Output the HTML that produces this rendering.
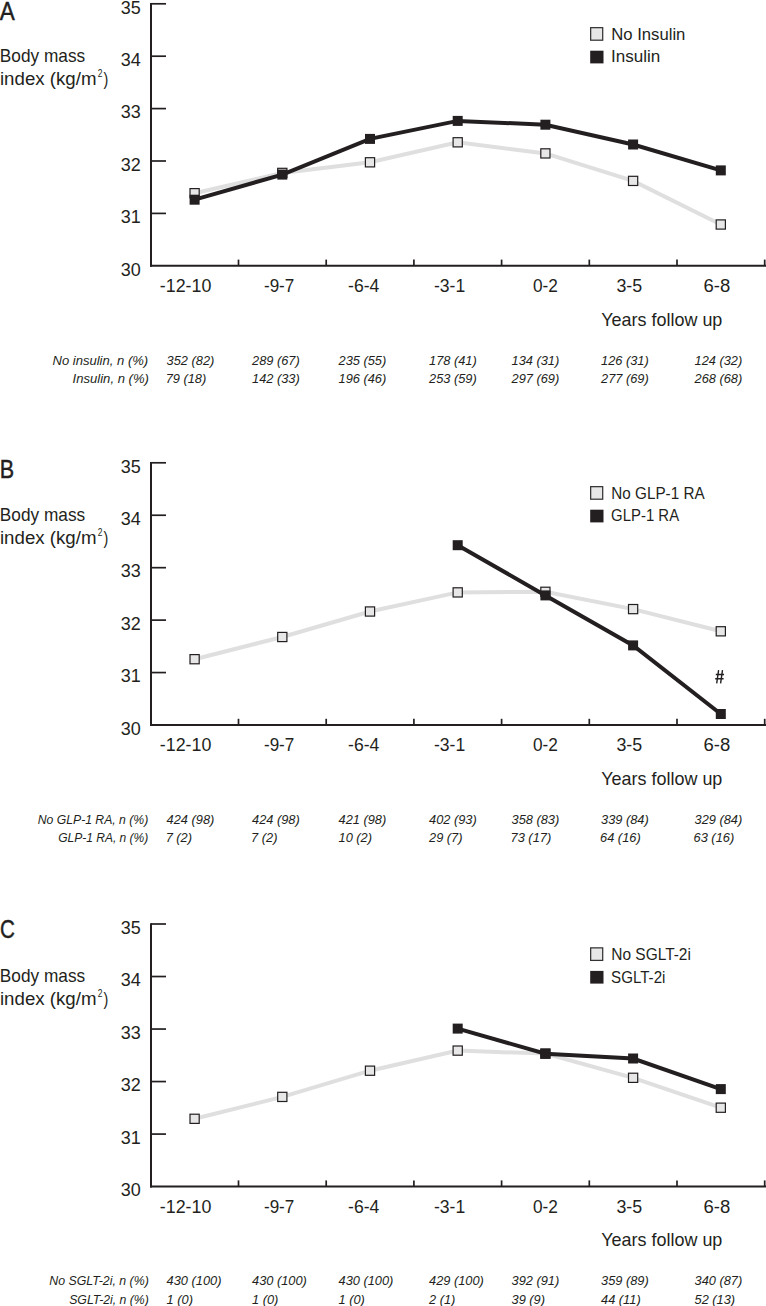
<!DOCTYPE html>
<html><head><meta charset="utf-8"><style>
html,body{margin:0;padding:0;background:#fff;overflow:hidden;}
svg{display:block;}
svg text{font-family:"Liberation Sans",sans-serif;fill:#231f20;}
</style></head><body>
<svg width="766" height="1306" viewBox="0 0 766 1306">
<line x1="151.0" y1="3.80" x2="166" y2="3.80" stroke="#231f20" stroke-width="1.7"/>
<line x1="151.0" y1="56.20" x2="166" y2="56.20" stroke="#231f20" stroke-width="1.7"/>
<line x1="151.0" y1="108.60" x2="166" y2="108.60" stroke="#231f20" stroke-width="1.7"/>
<line x1="151.0" y1="161.00" x2="166" y2="161.00" stroke="#231f20" stroke-width="1.7"/>
<line x1="151.0" y1="213.40" x2="166" y2="213.40" stroke="#231f20" stroke-width="1.7"/>
<line x1="151.0" y1="2.95" x2="151.0" y2="266.80" stroke="#231f20" stroke-width="2"/>
<line x1="150" y1="265.80" x2="767" y2="265.80" stroke="#231f20" stroke-width="2"/>
<line x1="238.50" y1="259.60" x2="238.50" y2="265.80" stroke="#231f20" stroke-width="1.7"/>
<line x1="326.20" y1="259.60" x2="326.20" y2="265.80" stroke="#231f20" stroke-width="1.7"/>
<line x1="413.90" y1="259.60" x2="413.90" y2="265.80" stroke="#231f20" stroke-width="1.7"/>
<line x1="501.60" y1="259.60" x2="501.60" y2="265.80" stroke="#231f20" stroke-width="1.7"/>
<line x1="589.30" y1="259.60" x2="589.30" y2="265.80" stroke="#231f20" stroke-width="1.7"/>
<line x1="677.00" y1="259.60" x2="677.00" y2="265.80" stroke="#231f20" stroke-width="1.7"/>
<line x1="764.70" y1="259.60" x2="764.70" y2="265.80" stroke="#231f20" stroke-width="1.7"/>
<rect x="590.66" y="27.66" width="12.04" height="12.54" fill="#e7e7e7" stroke="#333333" stroke-width="1.25"/>
<rect x="590.2" y="50.70" width="13.3" height="12.7" fill="#231f20"/>
<polyline points="194.60,193.20 282.30,172.90 370.00,162.30 457.70,142.30 545.40,153.40 633.10,180.90 720.80,224.50" fill="none" stroke="#dfdfdf" stroke-width="4" stroke-linejoin="miter"/>
<rect x="190.00" y="188.60" width="9.2" height="9.2" fill="#e7e7e7" stroke="#231f20" stroke-width="1.2"/>
<rect x="277.70" y="168.30" width="9.2" height="9.2" fill="#e7e7e7" stroke="#231f20" stroke-width="1.2"/>
<rect x="365.40" y="157.70" width="9.2" height="9.2" fill="#e7e7e7" stroke="#231f20" stroke-width="1.2"/>
<rect x="453.10" y="137.70" width="9.2" height="9.2" fill="#e7e7e7" stroke="#231f20" stroke-width="1.2"/>
<rect x="540.80" y="148.80" width="9.2" height="9.2" fill="#e7e7e7" stroke="#231f20" stroke-width="1.2"/>
<rect x="628.50" y="176.30" width="9.2" height="9.2" fill="#e7e7e7" stroke="#231f20" stroke-width="1.2"/>
<rect x="716.20" y="219.90" width="9.2" height="9.2" fill="#e7e7e7" stroke="#231f20" stroke-width="1.2"/>
<polyline points="194.60,199.70 282.30,174.60 370.00,138.90 457.70,120.90 545.40,124.70 633.10,144.50 720.80,170.40" fill="none" stroke="#231f20" stroke-width="4.0" stroke-linejoin="miter"/>
<rect x="189.60" y="194.70" width="10" height="10" fill="#231f20"/>
<rect x="277.30" y="169.60" width="10" height="10" fill="#231f20"/>
<rect x="365.00" y="133.90" width="10" height="10" fill="#231f20"/>
<rect x="452.70" y="115.90" width="10" height="10" fill="#231f20"/>
<rect x="540.40" y="119.70" width="10" height="10" fill="#231f20"/>
<rect x="628.10" y="139.50" width="10" height="10" fill="#231f20"/>
<rect x="715.80" y="165.40" width="10" height="10" fill="#231f20"/>
<line x1="151.0" y1="462.80" x2="166" y2="462.80" stroke="#231f20" stroke-width="1.7"/>
<line x1="151.0" y1="515.24" x2="166" y2="515.24" stroke="#231f20" stroke-width="1.7"/>
<line x1="151.0" y1="567.68" x2="166" y2="567.68" stroke="#231f20" stroke-width="1.7"/>
<line x1="151.0" y1="620.12" x2="166" y2="620.12" stroke="#231f20" stroke-width="1.7"/>
<line x1="151.0" y1="672.56" x2="166" y2="672.56" stroke="#231f20" stroke-width="1.7"/>
<line x1="151.0" y1="461.95" x2="151.0" y2="726.00" stroke="#231f20" stroke-width="2"/>
<line x1="150" y1="725.00" x2="767" y2="725.00" stroke="#231f20" stroke-width="2"/>
<line x1="238.50" y1="718.80" x2="238.50" y2="725.00" stroke="#231f20" stroke-width="1.7"/>
<line x1="326.20" y1="718.80" x2="326.20" y2="725.00" stroke="#231f20" stroke-width="1.7"/>
<line x1="413.90" y1="718.80" x2="413.90" y2="725.00" stroke="#231f20" stroke-width="1.7"/>
<line x1="501.60" y1="718.80" x2="501.60" y2="725.00" stroke="#231f20" stroke-width="1.7"/>
<line x1="589.30" y1="718.80" x2="589.30" y2="725.00" stroke="#231f20" stroke-width="1.7"/>
<line x1="677.00" y1="718.80" x2="677.00" y2="725.00" stroke="#231f20" stroke-width="1.7"/>
<line x1="764.70" y1="718.80" x2="764.70" y2="725.00" stroke="#231f20" stroke-width="1.7"/>
<rect x="590.66" y="486.66" width="12.04" height="12.54" fill="#e7e7e7" stroke="#333333" stroke-width="1.25"/>
<rect x="590.2" y="509.70" width="13.3" height="12.7" fill="#231f20"/>
<polyline points="194.60,659.20 282.30,637.00 370.00,611.50 457.70,592.40 545.40,591.80 633.10,609.10 720.80,631.30" fill="none" stroke="#dfdfdf" stroke-width="4" stroke-linejoin="miter"/>
<rect x="190.00" y="654.60" width="9.2" height="9.2" fill="#e7e7e7" stroke="#231f20" stroke-width="1.2"/>
<rect x="277.70" y="632.40" width="9.2" height="9.2" fill="#e7e7e7" stroke="#231f20" stroke-width="1.2"/>
<rect x="365.40" y="606.90" width="9.2" height="9.2" fill="#e7e7e7" stroke="#231f20" stroke-width="1.2"/>
<rect x="453.10" y="587.80" width="9.2" height="9.2" fill="#e7e7e7" stroke="#231f20" stroke-width="1.2"/>
<rect x="540.80" y="587.20" width="9.2" height="9.2" fill="#e7e7e7" stroke="#231f20" stroke-width="1.2"/>
<rect x="628.50" y="604.50" width="9.2" height="9.2" fill="#e7e7e7" stroke="#231f20" stroke-width="1.2"/>
<rect x="716.20" y="626.70" width="9.2" height="9.2" fill="#e7e7e7" stroke="#231f20" stroke-width="1.2"/>
<polyline points="457.70,545.20 545.40,595.40 633.10,645.40 720.80,714.00" fill="none" stroke="#231f20" stroke-width="4.0" stroke-linejoin="miter"/>
<rect x="452.70" y="540.20" width="10" height="10" fill="#231f20"/>
<rect x="540.40" y="590.40" width="10" height="10" fill="#231f20"/>
<rect x="628.10" y="640.40" width="10" height="10" fill="#231f20"/>
<rect x="715.80" y="709.00" width="10" height="10" fill="#231f20"/>
<line x1="151.0" y1="924.00" x2="166" y2="924.00" stroke="#231f20" stroke-width="1.7"/>
<line x1="151.0" y1="976.52" x2="166" y2="976.52" stroke="#231f20" stroke-width="1.7"/>
<line x1="151.0" y1="1029.04" x2="166" y2="1029.04" stroke="#231f20" stroke-width="1.7"/>
<line x1="151.0" y1="1081.56" x2="166" y2="1081.56" stroke="#231f20" stroke-width="1.7"/>
<line x1="151.0" y1="1134.08" x2="166" y2="1134.08" stroke="#231f20" stroke-width="1.7"/>
<line x1="151.0" y1="923.15" x2="151.0" y2="1187.60" stroke="#231f20" stroke-width="2"/>
<line x1="150" y1="1186.60" x2="767" y2="1186.60" stroke="#231f20" stroke-width="2"/>
<line x1="238.50" y1="1180.40" x2="238.50" y2="1186.60" stroke="#231f20" stroke-width="1.7"/>
<line x1="326.20" y1="1180.40" x2="326.20" y2="1186.60" stroke="#231f20" stroke-width="1.7"/>
<line x1="413.90" y1="1180.40" x2="413.90" y2="1186.60" stroke="#231f20" stroke-width="1.7"/>
<line x1="501.60" y1="1180.40" x2="501.60" y2="1186.60" stroke="#231f20" stroke-width="1.7"/>
<line x1="589.30" y1="1180.40" x2="589.30" y2="1186.60" stroke="#231f20" stroke-width="1.7"/>
<line x1="677.00" y1="1180.40" x2="677.00" y2="1186.60" stroke="#231f20" stroke-width="1.7"/>
<line x1="764.70" y1="1180.40" x2="764.70" y2="1186.60" stroke="#231f20" stroke-width="1.7"/>
<rect x="590.66" y="947.86" width="12.04" height="12.54" fill="#e7e7e7" stroke="#333333" stroke-width="1.25"/>
<rect x="590.2" y="970.90" width="13.3" height="12.7" fill="#231f20"/>
<polyline points="194.60,1118.80 282.30,1096.90 370.00,1070.70 457.70,1050.60 545.40,1053.60 633.10,1077.80 720.80,1107.70" fill="none" stroke="#dfdfdf" stroke-width="4" stroke-linejoin="miter"/>
<rect x="190.00" y="1114.20" width="9.2" height="9.2" fill="#e7e7e7" stroke="#231f20" stroke-width="1.2"/>
<rect x="277.70" y="1092.30" width="9.2" height="9.2" fill="#e7e7e7" stroke="#231f20" stroke-width="1.2"/>
<rect x="365.40" y="1066.10" width="9.2" height="9.2" fill="#e7e7e7" stroke="#231f20" stroke-width="1.2"/>
<rect x="453.10" y="1046.00" width="9.2" height="9.2" fill="#e7e7e7" stroke="#231f20" stroke-width="1.2"/>
<rect x="540.80" y="1049.00" width="9.2" height="9.2" fill="#e7e7e7" stroke="#231f20" stroke-width="1.2"/>
<rect x="628.50" y="1073.20" width="9.2" height="9.2" fill="#e7e7e7" stroke="#231f20" stroke-width="1.2"/>
<rect x="716.20" y="1103.10" width="9.2" height="9.2" fill="#e7e7e7" stroke="#231f20" stroke-width="1.2"/>
<polyline points="457.70,1028.60 545.40,1053.70 633.10,1058.50 720.80,1089.10" fill="none" stroke="#231f20" stroke-width="4.0" stroke-linejoin="miter"/>
<rect x="452.70" y="1023.60" width="10" height="10" fill="#231f20"/>
<rect x="540.40" y="1048.70" width="10" height="10" fill="#231f20"/>
<rect x="628.10" y="1053.50" width="10" height="10" fill="#231f20"/>
<rect x="715.80" y="1084.10" width="10" height="10" fill="#231f20"/>
<path d="M718.6,670.2 L716.7,683.4 M722.5,670.2 L720.6,683.4 M715.8,674.5 L724,674.5 M715.2,678.7 L723.6,678.7" stroke="#231f20" stroke-width="1.4" fill="none"/>
<text transform="translate(-0.20,20.00) scale(0.9000,1)" style="font-size:25px;stroke:#231f20;stroke-width:0.45px">A</text>
<text transform="translate(-0.16,61.80) scale(0.9591,1)" style="font-size:18px">Body mass</text>
<text transform="translate(-0.04,85.00) scale(1.0385,1)" style="font-size:18px">index (kg/m</text>
<text transform="translate(97.70,76.90) scale(0.7833,1)" style="font-size:10.8px">2</text>
<text transform="translate(103.40,85.00) scale(0.8000,1)" style="font-size:18px">)</text>
<text transform="translate(120.70,13.50) scale(1.0000,1)" style="font-size:18px">35</text>
<text transform="translate(120.70,65.90) scale(1.0000,1)" style="font-size:18px">34</text>
<text transform="translate(120.70,118.30) scale(1.0000,1)" style="font-size:18px">33</text>
<text transform="translate(120.70,170.70) scale(1.0000,1)" style="font-size:18px">32</text>
<text transform="translate(120.70,223.10) scale(1.0000,1)" style="font-size:18px">31</text>
<text transform="translate(120.70,275.50) scale(1.0000,1)" style="font-size:18px">30</text>
<text transform="translate(159.81,292.00) scale(0.9922,1)" style="font-size:18px">-12-10</text>
<text transform="translate(263.95,292.00) scale(0.9484,1)" style="font-size:18px">-9-7</text>
<text transform="translate(348.12,292.00) scale(0.9774,1)" style="font-size:18px">-6-4</text>
<text transform="translate(433.92,292.00) scale(0.9774,1)" style="font-size:18px">-3-1</text>
<text transform="translate(532.90,292.00) scale(0.9577,1)" style="font-size:18px">0-2</text>
<text transform="translate(616.41,292.00) scale(0.9920,1)" style="font-size:18px">3-5</text>
<text transform="translate(703.57,292.00) scale(1.0280,1)" style="font-size:18px">6-8</text>
<text transform="translate(601.30,325.60) scale(0.9975,1)" style="font-size:18px">Years follow up</text>
<text transform="translate(611.26,40.00) scale(1.0429,1)" style="font-size:16px">No Insulin</text>
<text transform="translate(610.93,62.30) scale(1.0667,1)" style="font-size:16px">Insulin</text>
<text transform="translate(52.50,364.50) scale(0.9667,1)" style="font-style:italic;font-size:13.5px">No insulin, n (%)</text>
<text transform="translate(72.60,383.40) scale(0.9692,1)" style="font-style:italic;font-size:13.5px">Insulin, n (%)</text>
<text transform="translate(166.60,364.50) scale(0.9500,1)" style="font-style:italic;font-size:13.5px">352 (82)</text>
<text transform="translate(165.65,383.40) scale(0.9500,1)" style="font-style:italic;font-size:13.5px">79 (18)</text>
<text transform="translate(252.00,364.50) scale(0.9500,1)" style="font-style:italic;font-size:13.5px">289 (67)</text>
<text transform="translate(252.00,383.40) scale(0.9500,1)" style="font-style:italic;font-size:13.5px">142 (33)</text>
<text transform="translate(338.50,364.50) scale(0.9500,1)" style="font-style:italic;font-size:13.5px">235 (55)</text>
<text transform="translate(338.50,383.40) scale(0.9500,1)" style="font-style:italic;font-size:13.5px">196 (46)</text>
<text transform="translate(429.00,364.50) scale(0.9500,1)" style="font-style:italic;font-size:13.5px">178 (41)</text>
<text transform="translate(429.00,383.40) scale(0.9500,1)" style="font-style:italic;font-size:13.5px">253 (59)</text>
<text transform="translate(511.50,364.50) scale(0.9500,1)" style="font-style:italic;font-size:13.5px">134 (31)</text>
<text transform="translate(511.50,383.40) scale(0.9500,1)" style="font-style:italic;font-size:13.5px">297 (69)</text>
<text transform="translate(601.00,364.50) scale(0.9500,1)" style="font-style:italic;font-size:13.5px">126 (31)</text>
<text transform="translate(601.00,383.40) scale(0.9500,1)" style="font-style:italic;font-size:13.5px">277 (69)</text>
<text transform="translate(694.50,364.50) scale(0.9500,1)" style="font-style:italic;font-size:13.5px">124 (32)</text>
<text transform="translate(694.50,383.40) scale(0.9500,1)" style="font-style:italic;font-size:13.5px">268 (68)</text>
<text transform="translate(-0.26,478.00) scale(0.8286,1)" style="font-size:26px;stroke:#231f20;stroke-width:0.45px">B</text>
<text transform="translate(-0.16,520.80) scale(0.9591,1)" style="font-size:18px">Body mass</text>
<text transform="translate(-0.04,544.00) scale(1.0385,1)" style="font-size:18px">index (kg/m</text>
<text transform="translate(97.70,535.90) scale(0.7833,1)" style="font-size:10.8px">2</text>
<text transform="translate(103.40,544.00) scale(0.8000,1)" style="font-size:18px">)</text>
<text transform="translate(120.70,472.50) scale(1.0000,1)" style="font-size:18px">35</text>
<text transform="translate(120.70,524.94) scale(1.0000,1)" style="font-size:18px">34</text>
<text transform="translate(120.70,577.38) scale(1.0000,1)" style="font-size:18px">33</text>
<text transform="translate(120.70,629.82) scale(1.0000,1)" style="font-size:18px">32</text>
<text transform="translate(120.70,682.26) scale(1.0000,1)" style="font-size:18px">31</text>
<text transform="translate(120.70,734.70) scale(1.0000,1)" style="font-size:18px">30</text>
<text transform="translate(159.81,751.20) scale(0.9922,1)" style="font-size:18px">-12-10</text>
<text transform="translate(263.95,751.20) scale(0.9484,1)" style="font-size:18px">-9-7</text>
<text transform="translate(348.12,751.20) scale(0.9774,1)" style="font-size:18px">-6-4</text>
<text transform="translate(433.92,751.20) scale(0.9774,1)" style="font-size:18px">-3-1</text>
<text transform="translate(532.90,751.20) scale(0.9577,1)" style="font-size:18px">0-2</text>
<text transform="translate(616.41,751.20) scale(0.9920,1)" style="font-size:18px">3-5</text>
<text transform="translate(703.57,751.20) scale(1.0280,1)" style="font-size:18px">6-8</text>
<text transform="translate(601.30,784.60) scale(0.9975,1)" style="font-size:18px">Years follow up</text>
<text transform="translate(611.35,499.00) scale(0.9536,1)" style="font-size:16px">No GLP-1 RA</text>
<text transform="translate(611.07,521.30) scale(0.9333,1)" style="font-size:16px">GLP-1 RA</text>
<text transform="translate(37.70,823.50) scale(0.9057,1)" style="font-style:italic;font-size:13.5px">No GLP-1 RA, n (%)</text>
<text transform="translate(58.20,842.40) scale(0.8911,1)" style="font-style:italic;font-size:13.5px">GLP-1 RA, n (%)</text>
<text transform="translate(166.60,823.50) scale(0.9500,1)" style="font-style:italic;font-size:13.5px">424 (98)</text>
<text transform="translate(165.65,842.40) scale(0.9500,1)" style="font-style:italic;font-size:13.5px">7 (2)</text>
<text transform="translate(252.00,823.50) scale(0.9500,1)" style="font-style:italic;font-size:13.5px">424 (98)</text>
<text transform="translate(251.05,842.40) scale(0.9500,1)" style="font-style:italic;font-size:13.5px">7 (2)</text>
<text transform="translate(338.50,823.50) scale(0.9500,1)" style="font-style:italic;font-size:13.5px">421 (98)</text>
<text transform="translate(338.50,842.40) scale(0.9500,1)" style="font-style:italic;font-size:13.5px">10 (2)</text>
<text transform="translate(429.00,823.50) scale(0.9500,1)" style="font-style:italic;font-size:13.5px">402 (93)</text>
<text transform="translate(429.00,842.40) scale(0.9500,1)" style="font-style:italic;font-size:13.5px">29 (7)</text>
<text transform="translate(511.50,823.50) scale(0.9500,1)" style="font-style:italic;font-size:13.5px">358 (83)</text>
<text transform="translate(510.55,842.40) scale(0.9500,1)" style="font-style:italic;font-size:13.5px">73 (17)</text>
<text transform="translate(601.00,823.50) scale(0.9500,1)" style="font-style:italic;font-size:13.5px">339 (84)</text>
<text transform="translate(600.05,842.40) scale(0.9500,1)" style="font-style:italic;font-size:13.5px">64 (16)</text>
<text transform="translate(694.50,823.50) scale(0.9500,1)" style="font-style:italic;font-size:13.5px">329 (84)</text>
<text transform="translate(693.55,842.40) scale(0.9500,1)" style="font-style:italic;font-size:13.5px">63 (16)</text>
<text transform="translate(-0.02,937.80) scale(0.8250,1)" style="font-size:25px;stroke:#231f20;stroke-width:0.45px">C</text>
<text transform="translate(-0.16,982.00) scale(0.9591,1)" style="font-size:18px">Body mass</text>
<text transform="translate(-0.04,1005.20) scale(1.0385,1)" style="font-size:18px">index (kg/m</text>
<text transform="translate(97.70,997.10) scale(0.7833,1)" style="font-size:10.8px">2</text>
<text transform="translate(103.40,1005.20) scale(0.8000,1)" style="font-size:18px">)</text>
<text transform="translate(120.70,933.70) scale(1.0000,1)" style="font-size:18px">35</text>
<text transform="translate(120.70,986.22) scale(1.0000,1)" style="font-size:18px">34</text>
<text transform="translate(120.70,1038.74) scale(1.0000,1)" style="font-size:18px">33</text>
<text transform="translate(120.70,1091.26) scale(1.0000,1)" style="font-size:18px">32</text>
<text transform="translate(120.70,1143.78) scale(1.0000,1)" style="font-size:18px">31</text>
<text transform="translate(120.70,1196.30) scale(1.0000,1)" style="font-size:18px">30</text>
<text transform="translate(159.81,1212.80) scale(0.9922,1)" style="font-size:18px">-12-10</text>
<text transform="translate(263.95,1212.80) scale(0.9484,1)" style="font-size:18px">-9-7</text>
<text transform="translate(348.12,1212.80) scale(0.9774,1)" style="font-size:18px">-6-4</text>
<text transform="translate(433.92,1212.80) scale(0.9774,1)" style="font-size:18px">-3-1</text>
<text transform="translate(532.90,1212.80) scale(0.9577,1)" style="font-size:18px">0-2</text>
<text transform="translate(616.41,1212.80) scale(0.9920,1)" style="font-size:18px">3-5</text>
<text transform="translate(703.57,1212.80) scale(1.0280,1)" style="font-size:18px">6-8</text>
<text transform="translate(601.30,1245.80) scale(0.9975,1)" style="font-size:18px">Years follow up</text>
<text transform="translate(611.33,960.20) scale(0.9667,1)" style="font-size:16px">No SGLT-2i</text>
<text transform="translate(611.05,982.50) scale(0.9464,1)" style="font-size:16px">SGLT-2i</text>
<text transform="translate(49.20,1284.70) scale(0.9167,1)" style="font-style:italic;font-size:13.5px">No SGLT-2i, n (%)</text>
<text transform="translate(69.20,1303.60) scale(0.9080,1)" style="font-style:italic;font-size:13.5px">SGLT-2i, n (%)</text>
<text transform="translate(166.60,1284.70) scale(0.9500,1)" style="font-style:italic;font-size:13.5px">430 (100)</text>
<text transform="translate(166.60,1303.60) scale(0.9500,1)" style="font-style:italic;font-size:13.5px">1 (0)</text>
<text transform="translate(252.00,1284.70) scale(0.9500,1)" style="font-style:italic;font-size:13.5px">430 (100)</text>
<text transform="translate(252.00,1303.60) scale(0.9500,1)" style="font-style:italic;font-size:13.5px">1 (0)</text>
<text transform="translate(338.50,1284.70) scale(0.9500,1)" style="font-style:italic;font-size:13.5px">430 (100)</text>
<text transform="translate(338.50,1303.60) scale(0.9500,1)" style="font-style:italic;font-size:13.5px">1 (0)</text>
<text transform="translate(429.00,1284.70) scale(0.9500,1)" style="font-style:italic;font-size:13.5px">429 (100)</text>
<text transform="translate(429.00,1303.60) scale(0.9500,1)" style="font-style:italic;font-size:13.5px">2 (1)</text>
<text transform="translate(511.50,1284.70) scale(0.9500,1)" style="font-style:italic;font-size:13.5px">392 (91)</text>
<text transform="translate(511.50,1303.60) scale(0.9500,1)" style="font-style:italic;font-size:13.5px">39 (9)</text>
<text transform="translate(601.00,1284.70) scale(0.9500,1)" style="font-style:italic;font-size:13.5px">359 (89)</text>
<text transform="translate(601.00,1303.60) scale(0.9500,1)" style="font-style:italic;font-size:13.5px">44 (11)</text>
<text transform="translate(694.50,1284.70) scale(0.9500,1)" style="font-style:italic;font-size:13.5px">340 (87)</text>
<text transform="translate(694.50,1303.60) scale(0.9500,1)" style="font-style:italic;font-size:13.5px">52 (13)</text>
</svg>
</body></html>
